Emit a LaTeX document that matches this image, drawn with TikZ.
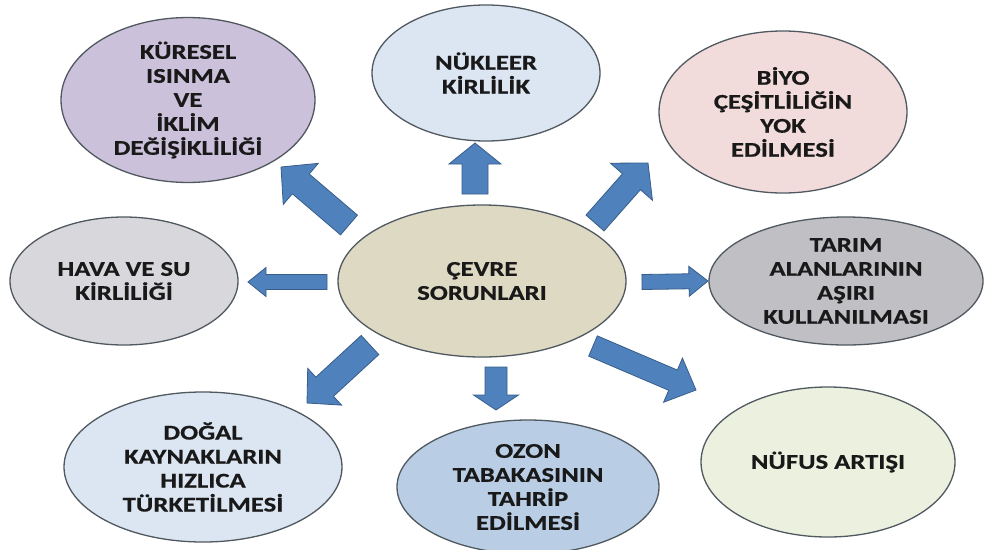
\documentclass[tikz,border=0pt]{standalone}
\usepackage{fontspec}
\setmainfont{Carlito}[FakeStretch=1.27,BoldFeatures={FakeBold=0.6}]
\usetikzlibrary{shapes.geometric,calc}
\definecolor{arrfill}{RGB}{79,129,189}
\definecolor{arrdraw}{RGB}{56,93,138}
\definecolor{elldraw}{RGB}{80,88,96}
\definecolor{cKuresel}{RGB}{204,193,218}
\definecolor{cNukleer}{RGB}{220,230,242}
\definecolor{cBiyo}{RGB}{242,220,219}
\definecolor{cHava}{RGB}{216,216,220}
\definecolor{cCevre}{RGB}{221,217,195}
\definecolor{cTarim}{RGB}{191,191,196}
\definecolor{cDogal}{RGB}{220,230,242}
\definecolor{cOzon}{RGB}{185,205,229}
\definecolor{cNufus}{RGB}{235,241,222}
\newcommand\blkarrow[5]{%
  \coordinate (blkB) at ($(#2)!#5pt!(#1)$);
  \draw[barrow] ($(#1)!#3pt!90:(#2)$) -- ($(blkB)!#3pt!90:(#2)$) -- ($(blkB)!#4pt!90:(#2)$)
    -- (#2) -- ($(blkB)!#4pt!-90:(#2)$) -- ($(blkB)!#3pt!-90:(#2)$) -- ($(#1)!#3pt!-90:(#2)$) -- cycle;
}
\begin{document}
\begin{tikzpicture}[x=1pt,y=-1pt,
  ell/.style={ellipse,draw=elldraw,line width=1.3pt,inner sep=0pt,align=center,
    font=\fontsize{21}{24}\selectfont\bfseries,text=black!90},
  barrow/.style={fill=arrfill,draw=arrdraw,line width=0.8pt,line join=miter}]
\fill[white] (0,0) rectangle (984,549);
\useasboundingbox (0,0) rectangle (984,549);

\node[ell,fill=cKuresel,minimum width=254pt,minimum height=146pt] (kur) at (188,100)
  {KÜRESEL\\ISINMA\\VE\\İKLİM\\DEĞİŞİKLİLİĞİ};
\node[ell,fill=cNukleer,minimum width=228pt,minimum height=136pt] (nuk) at (486,73)
  {NÜKLEER\\KİRLİLİK};
\node[ell,fill=cBiyo,minimum width=248pt,minimum height=162pt] (biy) at (783,112)
  {BİYO\\ÇEŞİTLİLİĞİN\\YOK\\EDİLMESİ};
\node[ell,fill=cHava,minimum width=228pt,minimum height=128pt] (hav) at (124,281)
  {HAVA VE SU\\KİRLİLİĞİ};
\node[ell,fill=cCevre,minimum width=288pt,minimum height=152pt] (cev) at (482,281)
  {ÇEVRE\\SORUNLARI};
\node[ell,fill=cTarim,minimum width=274pt,minimum height=128pt] (tar) at (846,281)
  {TARIM\\ALANLARININ\\AŞIRI\\KULLANILMASI};
\node[ell,fill=cDogal,minimum width=278pt,minimum height=150pt] (dog) at (203,467)
  {DOĞAL\\KAYNAKLARIN\\HIZLICA\\TÜRKETİLMESİ};
\node[ell,fill=cOzon,minimum width=262pt,minimum height=134pt] (ozo) at (528,487)
  {OZON\\TABAKASININ\\TAHRİP\\EDİLMESİ};
\node[ell,fill=cNufus,minimum width=254pt,minimum height=150pt] (nuf) at (828,462)
  {NÜFUS ARTIŞI};

\coordinate (t1) at (349,225); \coordinate (p1) at (281,167);
\coordinate (t2) at (475,194); \coordinate (p2) at (475,143);
\coordinate (t3) at (595,223); \coordinate (p3) at (648,163);
\coordinate (t4) at (327,282); \coordinate (p4) at (248,282);
\coordinate (t5) at (642,282); \coordinate (p5) at (708,281);
\coordinate (t6) at (370,345); \coordinate (p6) at (307,403);
\coordinate (t7) at (496,367); \coordinate (p7) at (496,410);
\coordinate (t8) at (593,346); \coordinate (p8) at (696,390);

\blkarrow{t1}{p1}{13}{27}{26}
\blkarrow{t2}{p2}{13}{26}{21}
\blkarrow{t3}{p3}{12}{28}{25}
\blkarrow{t4}{p4}{7.5}{14.5}{18}
\blkarrow{t5}{p5}{7.5}{15}{19}
\blkarrow{t6}{p6}{13}{25}{24}
\blkarrow{t7}{p7}{11}{22.5}{15}
\blkarrow{t8}{p8}{11}{24}{25}
\end{tikzpicture}
\end{document}
